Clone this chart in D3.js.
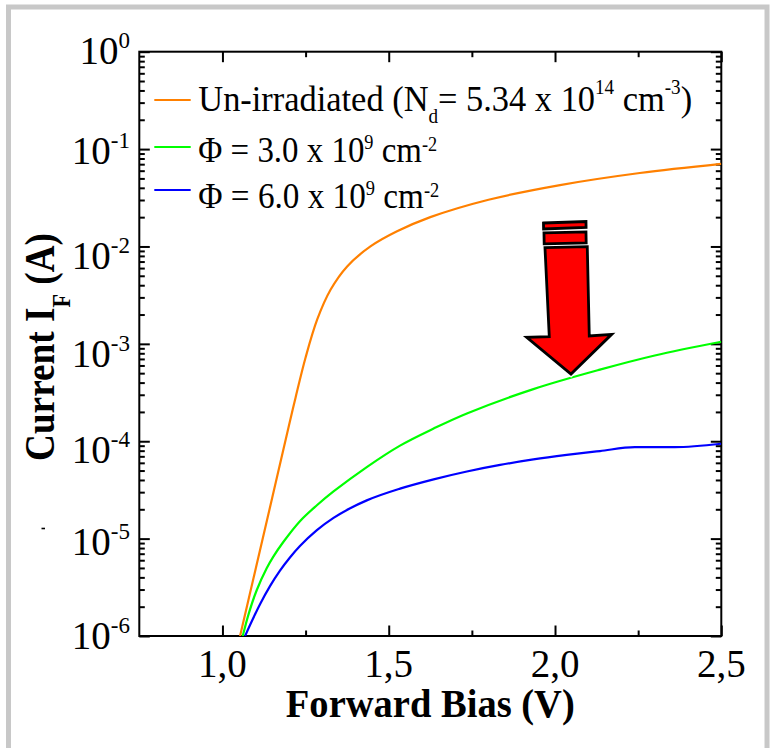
<!DOCTYPE html>
<html>
<head>
<meta charset="utf-8">
<script src="https://cdn.jsdelivr.net/npm/d3@7"></script>
<style>
  html, body { margin: 0; padding: 0; background: #fff; }
  svg { display: block; }
</style>
</head>
<body>
<svg id="chart" width="773" height="748"></svg>
<script>
// Forward I-V characteristics of the diode before and after irradiation.
const seriesColors = ["#ff8000", "#00ff00", "#0000ff"];

// Un-irradiated device
const biasUnirr    = [1.053, 1.10, 1.15, 1.20, 1.22, 1.25, 1.285, 1.325, 1.375, 1.445, 1.525, 1.625, 1.80, 2.015, 2.255, 2.50];
const currentUnirr = [1.0e-6, 4.9e-6, 2.66e-5, 1.45e-4, 2.82e-4, 7.24e-4, 1.78e-3, 3.59e-3, 6.24e-3, 1.0e-2, 1.43e-2, 2.0e-2, 3.02e-2, 4.27e-2, 5.68e-2, 7.06e-2];

// Fluence 3.0 x 10^9 cm^-2
const biasPhi3    = [1.061, 1.08, 1.103, 1.133, 1.153, 1.183, 1.233, 1.284, 1.334, 1.434, 1.534, 1.635, 1.735, 1.935, 2.135, 2.30, 2.50];
const currentPhi3 = [1.0e-6, 1.74e-6, 2.95e-6, 4.95e-6, 6.53e-6, 9.23e-6, 1.51e-5, 2.2e-5, 3.05e-5, 5.43e-5, 9.02e-5, 1.35e-4, 1.93e-4, 3.43e-4, 5.43e-4, 7.59e-4, 1.05e-3];

// Fluence 6.0 x 10^9 cm^-2
const biasPhi6    = [1.068, 1.09, 1.113, 1.143, 1.173, 1.203, 1.233, 1.284, 1.334, 1.384, 1.434, 1.534, 1.635, 1.735, 1.835, 1.935, 2.035, 2.135, 2.24, 2.36, 2.50];
const currentPhi6 = [1.0e-6, 1.46e-6, 2.12e-6, 3.25e-6, 4.69e-6, 6.4e-6, 8.38e-6, 1.22e-5, 1.63e-5, 2.05e-5, 2.47e-5, 3.26e-5, 4.06e-5, 4.89e-5, 5.71e-5, 6.5e-5, 7.23e-5, 7.93e-5, 8.69e-5, 8.69e-5, 9.42e-5];

const xTicks      = [1.0, 1.5, 2.0, 2.5];
const xTickLabels = ["1,0", "1,5", "2,0", "2,5"];
const xMinorTicks = [1.25, 1.75, 2.25];
const yDecades    = [0, -1, -2, -3, -4, -5, -6];

// Arrow annotation: tip position in data units
const arrowTipBias = 2.048;
const arrowTipCurrent = 4.9e-4;

const FONT = "'Liberation Serif', 'Times New Roman', Times, serif";

const svg = d3.select("#chart");
const plot = { left: 139.3, right: 721.3, top: 51.7, bottom: 636 };

const x = d3.scaleLinear().domain([0.75, 2.5]).range([plot.left, plot.right]);
const y = d3.scaleLog().domain([1e-6, 1]).range([plot.bottom, plot.top]);

// outer grey frame
svg.append("rect").attr("width", 773).attr("height", 748).attr("fill", "#fff");
svg.append("rect")
  .attr("x", 8.5).attr("y", 7).attr("width", 758.5).attr("height", 760)
  .attr("fill", "none").attr("stroke", "#c8c8c8").attr("stroke-width", 5);

// scale a text element horizontally around its anchor point
function fitWidth(sel, target) {
  const w = sel.node().getBBox().width;
  sel.attr("transform", `scale(${target / w},1)`);
}

// ---- ticks ----
function ticksOnly(g) {
  g.select(".domain").remove();
  g.selectAll(".tick line").attr("stroke", "#000").attr("stroke-width", 2);
  g.selectAll(".tick text").remove();
}
const majorLen = 10.5, minorLen = 5.5;
const yMajor = yDecades.map(e => Math.pow(10, e));
const yMinor = [];
for (let e = -6; e < 0; e++) for (let k = 2; k <= 9; k++) yMinor.push(k * Math.pow(10, e));

[[d3.axisBottom, plot.bottom], [d3.axisTop, plot.top]].forEach(([ax, pos]) => {
  svg.append("g").attr("transform", `translate(0,${pos})`)
    .call(ax(x).tickValues(xTicks).tickSize(-majorLen)).call(ticksOnly);
  svg.append("g").attr("transform", `translate(0,${pos})`)
    .call(ax(x).tickValues(xMinorTicks).tickSize(-minorLen)).call(ticksOnly);
});
[[d3.axisLeft, plot.left], [d3.axisRight, plot.right]].forEach(([ax, pos]) => {
  svg.append("g").attr("transform", `translate(${pos},0)`)
    .call(ax(y).tickValues(yMajor).tickSize(-majorLen)).call(ticksOnly);
  svg.append("g").attr("transform", `translate(${pos},0)`)
    .call(ax(y).tickValues(yMinor).tickSize(-minorLen)).call(ticksOnly);
});

// plot frame
svg.append("rect")
  .attr("x", plot.left).attr("y", plot.top)
  .attr("width", plot.right - plot.left).attr("height", plot.bottom - plot.top)
  .attr("fill", "none").attr("stroke", "#000").attr("stroke-width", 2);

// ---- tick labels ----
// baseline offset of each decade label below its tick
const yLabelDrop = [12, 15, 23, 23, 22, 16, 13];
const yLab = svg.append("g").attr("font-family", FONT).attr("fill", "#000");
yDecades.forEach((e, i) => {
  const t = yLab.append("text")
    .attr("x", 130).attr("y", y(Math.pow(10, e)) + yLabelDrop[i])
    .attr("text-anchor", "end").attr("font-size", 39);
  t.append("tspan").text("10");
  t.append("tspan").attr("dy", -16).attr("font-size", 23).text(String(e));
});

const xLab = svg.append("g").attr("font-family", FONT).attr("fill", "#000");
xTicks.forEach((v, i) => {
  xLab.append("text")
    .attr("x", x(v)).attr("y", 677)
    .attr("text-anchor", "middle").attr("font-size", 39)
    .text(xTickLabels[i]);
});

// ---- axis titles ----
const xTitle = svg.append("g").attr("transform", "translate(430.3,717)")
  .append("text").attr("font-family", FONT).attr("font-weight", "bold")
  .attr("font-size", 40).attr("text-anchor", "middle").text("Forward Bias (V)");
fitWidth(xTitle, 289);

const yTitle = svg.append("g").attr("transform", "translate(54,347) rotate(-90)")
  .append("text").attr("font-family", FONT).attr("font-weight", "bold")
  .attr("font-size", 42).attr("text-anchor", "middle");
yTitle.append("tspan").text("Current I");
yTitle.append("tspan").attr("dy", 16).attr("font-size", 25).text("F");
yTitle.append("tspan").attr("dy", -16).text(" (A)");
fitWidth(yTitle, 228);

// small stray mark left of the axis
svg.append("path").attr("d", "M41.5,528.5 h3.5").attr("stroke", "#000").attr("stroke-width", 1.6);

// ---- curves ----
svg.append("clipPath").attr("id", "plotClip").append("rect")
  .attr("x", plot.left).attr("y", plot.top)
  .attr("width", plot.right - plot.left).attr("height", plot.bottom - plot.top);

const series = [
  d3.zip(biasUnirr, currentUnirr),
  d3.zip(biasPhi3, currentPhi3),
  d3.zip(biasPhi6, currentPhi6)
];
// the 6.0e9 curve has a flat stretch near 2.3 V, so it uses a non-overshooting curve
const seriesCurves = [d3.curveCatmullRom.alpha(0.5), d3.curveCatmullRom.alpha(0.5), d3.curveMonotoneX];
const curves = svg.append("g").attr("clip-path", "url(#plotClip)");
series.forEach((s, i) => {
  const line = d3.line().x(d => x(d[0])).y(d => y(d[1])).curve(seriesCurves[i]);
  curves.append("path").attr("d", line(s))
    .attr("fill", "none").attr("stroke", seriesColors[i]).attr("stroke-width", 2.2)
    .attr("stroke-linejoin", "round");
});

// ---- arrow annotation ----
const tipX = x(arrowTipBias), tipY = y(arrowTipCurrent);
const arrowShapes = [
  [[-26, -126.3], [16.3, -127.3], [18.3, -38], [40.7, -39.7], [0, 0], [-44.3, -36.7], [-21.7, -37.3]],
  [[-27, -141.2], [15, -142.2], [15.2, -131.2], [-26.8, -130.2]],
  [[-27.5, -151], [15, -152.5], [15.1, -146.5], [-27.4, -145]]
];
const arrow = svg.append("g").attr("transform", `translate(${tipX},${tipY})`);
arrowShapes.forEach(pts => {
  const d = "M" + pts.map(p => p.join(",")).join("L") + "Z";
  arrow.append("path").attr("d", d).attr("fill", "none")
    .attr("stroke", "#fff").attr("stroke-width", 5.5).attr("stroke-linejoin", "miter");
});
arrowShapes.forEach(pts => {
  const d = "M" + pts.map(p => p.join(",")).join("L") + "Z";
  arrow.append("path").attr("d", d).attr("fill", "#ff0000")
    .attr("stroke", "#000").attr("stroke-width", 2.8).attr("stroke-linejoin", "miter");
});

// ---- legend ----
const legendLinesY = [100, 147, 190];
const legendBaseY = [111, 161.5, 207.5];
const legendWidths = [494, 239, 241];
const leg = svg.append("g").attr("font-family", FONT).attr("fill", "#000");
legendLinesY.forEach((ly, i) => {
  leg.append("line").attr("x1", 154.3).attr("x2", 190.7).attr("y1", ly).attr("y2", ly)
    .attr("stroke", seriesColors[i]).attr("stroke-width", 2.2);
});

function legendText(i) {
  return leg.append("g").attr("transform", `translate(198.3,${legendBaseY[i]})`)
    .append("text").attr("font-size", 36);
}
const t0 = legendText(0);
t0.append("tspan").text("Un-irradiated (N");
t0.append("tspan").attr("dy", 12).attr("font-size", 20).text("d");
t0.append("tspan").attr("dy", -12).text("= 5.34 x 10");
t0.append("tspan").attr("dy", -17).attr("font-size", 20).text("14");
t0.append("tspan").attr("dy", 17).text(" cm");
t0.append("tspan").attr("dy", -17).attr("font-size", 20).text("-3");
t0.append("tspan").attr("dy", 17).text(")");
fitWidth(t0, legendWidths[0]);

["3.0", "6.0"].forEach((f, k) => {
  const t = legendText(k + 1);
  t.append("tspan").text(`\u03A6 = ${f} x 10`);
  t.append("tspan").attr("dy", -13).attr("font-size", 20).text("9");
  t.append("tspan").attr("dy", 13).text(" cm");
  t.append("tspan").attr("dy", -11).attr("font-size", 20).text("-2");
  fitWidth(t, legendWidths[k + 1]);
});
</script>
</body>
</html>
